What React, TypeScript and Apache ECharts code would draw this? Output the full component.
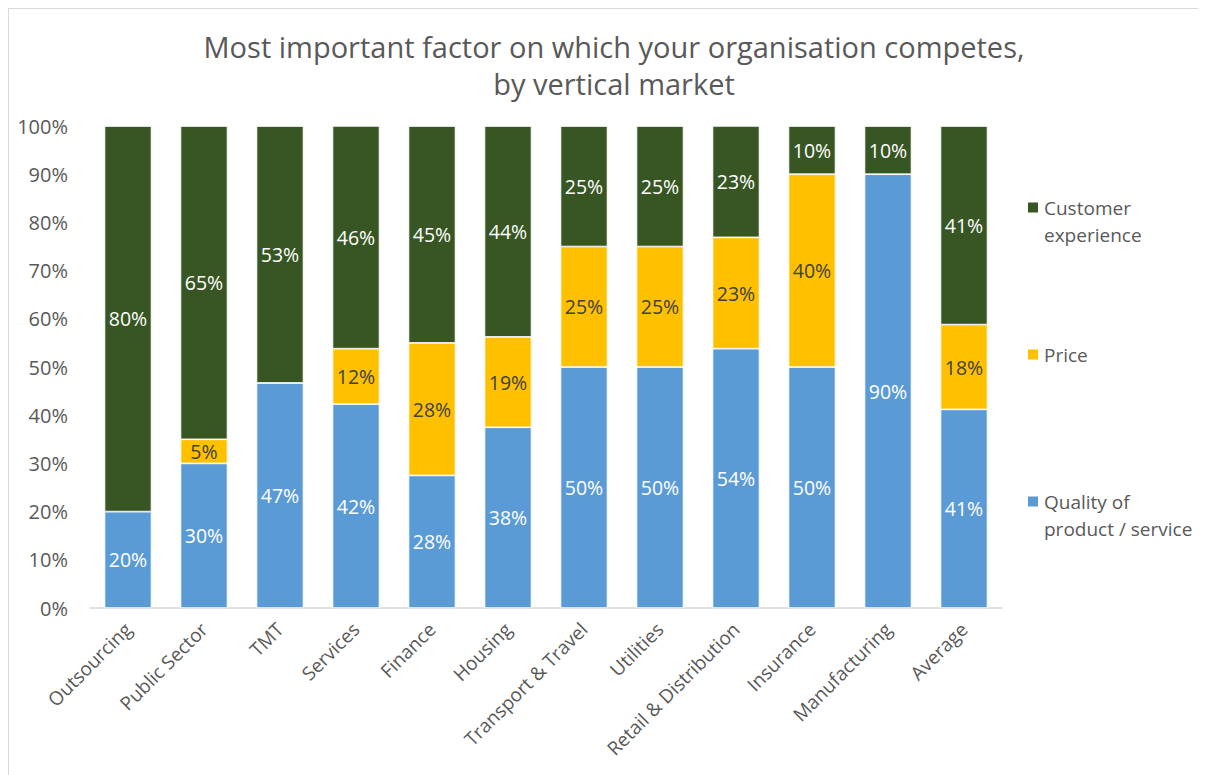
import React, { useEffect, useRef } from "react";
import * as echarts from "echarts";

const categories = [
  "Outsourcing",
  "Public Sector",
  "TMT",
  "Services",
  "Finance",
  "Housing",
  "Transport & Travel",
  "Utilities",
  "Retail & Distribution",
  "Insurance",
  "Manufacturing",
  "Average",
];

const qualityValues = [20, 30, 46.7, 42.3, 27.5, 37.5, 50, 50, 53.8, 50, 90, 41.2];
const priceValues = [0, 5, 0, 11.5, 27.5, 18.75, 25, 25, 23.1, 40, 0, 17.6];
const customerValues = [80, 65, 53.3, 46.2, 45, 43.75, 25, 25, 23.1, 10, 10, 41.2];

const yTickMax = 100;
const yTickInterval = 10;

const FONT = "'Open Sans', sans-serif";
const GREY = "#595959";

export default function App() {
  const ref = useRef<HTMLDivElement>(null);

  useEffect(() => {
    if (!ref.current) return;
    const chart = echarts.init(ref.current, null, { renderer: "svg" });

    const labelFmt = (p: any) => (p.value > 0 ? Math.round(p.value) + "%" : "");

    const mkSeries = (name: string, data: number[], color: string, labelColor: string) => ({
      name,
      type: "bar",
      stack: "total",
      data,
      barWidth: 47,
      itemStyle: { color, borderColor: "#ffffff", borderWidth: 0.75 },
      label: {
        show: true,
        position: "inside",
        formatter: labelFmt,
        color: labelColor,
        fontFamily: FONT,
        fontSize: 19.5,
      },
    });

    const legendCommon = {
      orient: "vertical",
      left: 1012,
      itemWidth: 12,
      itemHeight: 12,
      icon: "rect",
      textStyle: {
        color: GREY,
        fontFamily: FONT,
        fontSize: 19,
        lineHeight: 27,
      },
    };

    chart.setOption({
      animation: false,
      backgroundColor: "#ffffff",
      title: {
        text: "Most important factor on which your organisation competes,\nby vertical market",
        left: 600,
        textAlign: "center",
        top: 14,
        textStyle: {
          color: GREY,
          fontFamily: FONT,
          fontSize: 29,
          fontWeight: "normal",
          lineHeight: 37,
        },
      },
      legend: [
        {
          ...legendCommon,
          top: 153,
          data: ["Customer experience"],
          formatter: () => "\nCustomer\nexperience",
        },
        {
          ...legendCommon,
          top: 327,
          data: ["Price"],
        },
        {
          ...legendCommon,
          top: 447,
          data: ["Quality of product / service"],
          formatter: () => "\nQuality of\nproduct / service",
        },
      ],
      grid: {
        left: 81,
        width: 912,
        top: 117,
        height: 482,
      },
      xAxis: {
        type: "category",
        data: categories,
        axisTick: { show: false },
        axisLine: { lineStyle: { color: "#d9d9d9", width: 1.5 } },
        axisLabel: {
          interval: 0,
          rotate: 45,
          margin: 18,
          color: GREY,
          fontFamily: FONT,
          fontSize: 19,
        },
      },
      yAxis: {
        type: "value",
        min: 0,
        max: yTickMax,
        interval: yTickInterval,
        splitLine: { show: false },
        axisLine: { show: false },
        axisTick: { show: false },
        axisLabel: {
          formatter: "{value}%",
          margin: 22,
          color: GREY,
          fontFamily: FONT,
          fontSize: 20,
        },
      },
      series: [
        mkSeries("Quality of product / service", qualityValues, "#5B9BD5", "#ffffff"),
        mkSeries("Price", priceValues, "#FFC000", "#404040"),
        mkSeries("Customer experience", customerValues, "#375623", "#ffffff"),
      ],
    });

    return () => chart.dispose();
  }, []);

  return (
    <div
      ref={ref}
      style={{
        width: 1198,
        height: 767,
        borderTop: "1px solid #d9d9d9",
        borderLeft: "1px solid #d9d9d9",
        boxSizing: "border-box",
      }}
    />
  );
}
